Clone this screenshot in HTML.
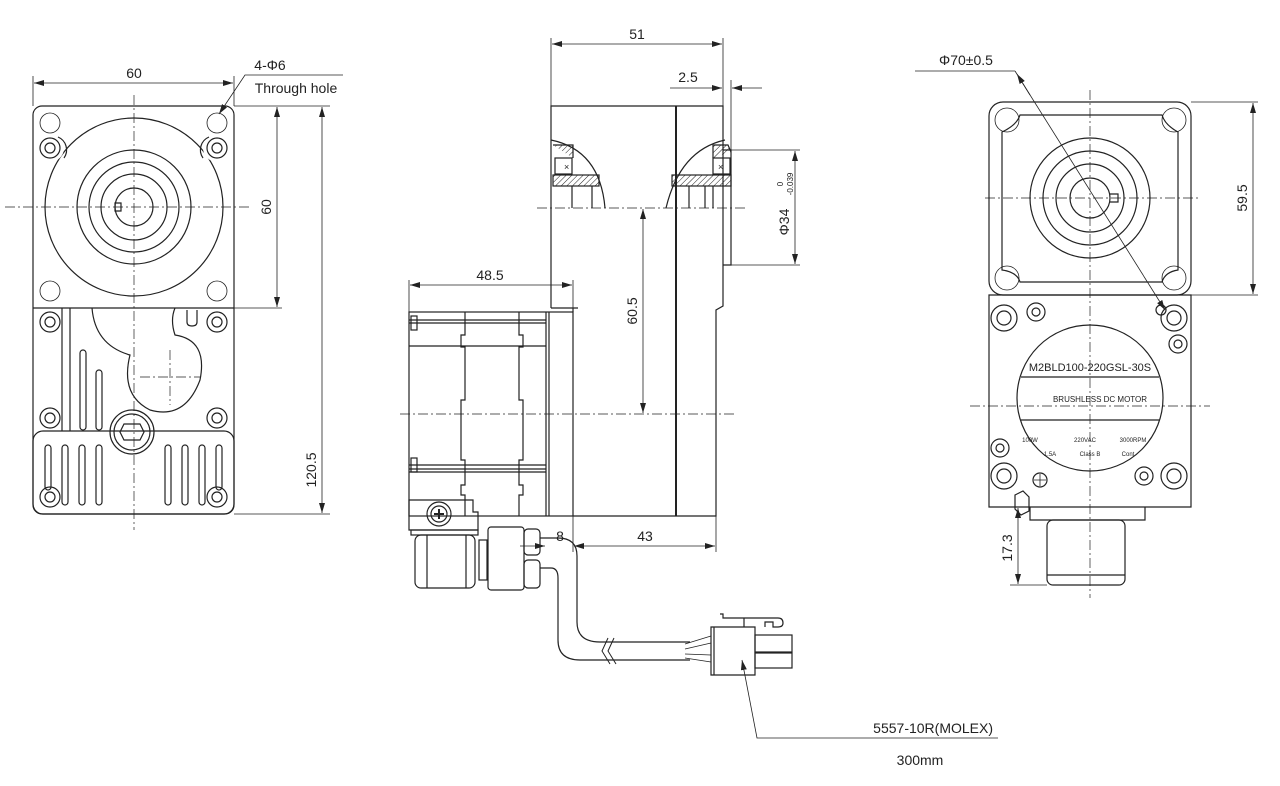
<!DOCTYPE html>
<html><head><meta charset="utf-8"><style>
html,body{margin:0;padding:0;background:#fff;}
svg{display:block;}
text{font-family:"Liberation Sans",sans-serif;fill:#222;}
</style></head><body>
<svg width="1280" height="786" viewBox="0 0 1280 786" xmlns="http://www.w3.org/2000/svg">
<defs>
<marker id="a" viewBox="0 0 10 6" refX="10" refY="3" markerWidth="10" markerHeight="6" orient="auto-start-reverse" markerUnits="userSpaceOnUse"><path d="M0,0 L10,3 L0,6 z" fill="#222"/></marker>
<pattern id="h" width="4" height="4" patternUnits="userSpaceOnUse" patternTransform="rotate(45)"><line x1="0" y1="0" x2="0" y2="4" stroke="#222" stroke-width="1"/></pattern>
</defs>
<g fill="none" stroke="#222" stroke-width="1.2">
<!-- ========== LEFT VIEW ========== -->
<rect x="33" y="106" width="201" height="408" rx="9"/>
<line x1="33" y1="308" x2="234" y2="308"/>
<circle cx="134" cy="207" r="89"/>
<circle cx="50" cy="148" r="14" fill="#fff" stroke="none"/><circle cx="217" cy="148" r="14" fill="#fff" stroke="none"/>
<path d="M58,137 A14,14 0 0 1 64,158" /><path d="M209,137 A14,14 0 0 0 203,158"/>
<circle cx="134" cy="207" r="57"/><circle cx="134" cy="207" r="45"/><circle cx="134" cy="207" r="33"/><circle cx="134" cy="207" r="19"/>
<path d="M115,203 h6 v8 h-6 z"/>
<g stroke-width="0.8"><circle cx="50" cy="123" r="10"/><circle cx="217" cy="123" r="10"/><circle cx="50" cy="291" r="10"/><circle cx="217" cy="291" r="10"/></g>
<g>
<circle cx="50" cy="148" r="10"/><circle cx="50" cy="148" r="5"/>
<circle cx="217" cy="148" r="10"/><circle cx="217" cy="148" r="5"/>
<circle cx="50" cy="322" r="10"/><circle cx="50" cy="322" r="5"/>
<circle cx="217" cy="322" r="10"/><circle cx="217" cy="322" r="5"/>
<circle cx="50" cy="418" r="10"/><circle cx="50" cy="418" r="5"/>
<circle cx="217" cy="418" r="10"/><circle cx="217" cy="418" r="5"/>
<circle cx="50" cy="497" r="10"/><circle cx="50" cy="497" r="5"/>
<circle cx="217" cy="497" r="10"/><circle cx="217" cy="497" r="5"/>
</g>
<line x1="62" y1="308" x2="62" y2="431"/><line x1="70" y1="308" x2="70" y2="431"/>
<rect x="80" y="350" width="6" height="80" rx="3"/><rect x="96" y="370" width="6" height="60" rx="3"/>
<path d="M92,308 Q95,345 130,355 Q120,395 150,410 Q185,420 200,380 Q208,340 175,335 Q170,320 175,308"/>
<path d="M187,310 v12 q0,4 5,4 q5,0 5,-4 v-12"/>
<rect x="33" y="431" width="201" height="83" rx="10"/>
<circle cx="132" cy="432" r="22"/><circle cx="132" cy="432" r="18"/><path d="M124,424 h16 l4,8 l-4,8 h-16 l-4,-8 z"/>
<g>
<rect x="45" y="445" width="6" height="45" rx="3"/><rect x="62" y="445" width="6" height="60" rx="3"/><rect x="79" y="445" width="6" height="60" rx="3"/><rect x="96" y="445" width="6" height="60" rx="3"/>
<rect x="165" y="445" width="6" height="60" rx="3"/><rect x="182" y="445" width="6" height="60" rx="3"/><rect x="199" y="445" width="6" height="60" rx="3"/><rect x="216" y="445" width="6" height="45" rx="3"/>
</g>
<g stroke-width="0.7" stroke-dasharray="10 3 2 3">
<line x1="134" y1="95" x2="134" y2="530"/><line x1="5" y1="207" x2="250" y2="207"/>
<line x1="140" y1="377" x2="200" y2="377"/><line x1="170" y1="350" x2="170" y2="405"/>
</g>
<g stroke-width="0.8">
<line x1="33" y1="76" x2="33" y2="106"/><line x1="234" y1="76" x2="234" y2="106"/>
<line x1="34" y1="83" x2="233" y2="83" marker-start="url(#a)" marker-end="url(#a)"/>
<line x1="234" y1="106" x2="330" y2="106"/><line x1="234" y1="308" x2="282" y2="308"/><line x1="234" y1="514" x2="330" y2="514"/>
<line x1="277" y1="107" x2="277" y2="307" marker-start="url(#a)" marker-end="url(#a)"/>
<line x1="322" y1="107" x2="322" y2="513" marker-start="url(#a)" marker-end="url(#a)"/>
<path d="M343,75 L245,75 L219,114" marker-end="url(#a)"/>
</g>
<!-- ========== MIDDLE VIEW ========== -->
<path d="M551,308 V106 H723 V306 L716,310 V516 H573"/>
<line x1="676" y1="106" x2="676" y2="516" stroke-width="2"/>
<path d="M723,150 H731 V265 H723"/>
<rect x="553" y="175" width="46" height="11" fill="url(#h)"/>
<rect x="672" y="175" width="59" height="11" fill="url(#h)"/>
<rect x="555" y="158" width="17" height="16"/><rect x="713" y="158" width="17" height="16"/>
<path d="M553,145 L573,145 L573,158" fill="url(#h)"/>
<path d="M713,158 L713,145 L728,145 L731,152" fill="url(#h)"/>
<path d="M551,140 Q600,150 605,208"/><path d="M725,140 Q680,150 666,208"/>
<line x1="572" y1="186" x2="572" y2="208"/><line x1="592" y1="186" x2="592" y2="208"/>
<line x1="689" y1="186" x2="689" y2="208"/><line x1="705" y1="186" x2="705" y2="208"/><line x1="713" y1="186" x2="713" y2="208"/>
<text x="564" y="170" font-size="9" stroke="none">×</text><text x="718" y="170" font-size="9" stroke="none">×</text>
<rect x="409" y="312" width="164" height="204"/>
<line x1="546" y1="312" x2="546" y2="516"/><line x1="549" y1="312" x2="549" y2="516"/>
<path d="M465,312 V335 h-4 v12 h4 V400 h-4 v60 h4 V485 h-4 v10 h4 V516"/>
<path d="M519,312 V335 h4 v12 h-4 V400 h4 v60 h-4 V485 h4 v10 h-4 V516"/>
<line x1="409" y1="320" x2="546" y2="320"/><line x1="409" y1="323" x2="546" y2="323"/>
<line x1="409" y1="346" x2="546" y2="346"/><line x1="409" y1="465" x2="546" y2="465"/>
<line x1="409" y1="469" x2="546" y2="469"/><line x1="409" y1="472" x2="546" y2="472"/>
<rect x="411" y="316" width="6" height="14"/><rect x="411" y="458" width="6" height="14"/>
<line x1="573" y1="308" x2="573" y2="312"/><line x1="551" y1="308" x2="578" y2="308"/>
<path d="M409,500 H473 V512 H478 V530 H409 Z"/>
<circle cx="439" cy="514" r="12"/><circle cx="439" cy="514" r="8"/><path d="M434,514 h10 M439,509 v10" stroke-width="2"/>
<rect x="411" y="530" width="67" height="5"/>
<rect x="415" y="535" width="60" height="53" rx="6"/><line x1="427" y1="535" x2="427" y2="588"/><line x1="466" y1="535" x2="466" y2="588"/>
<rect x="479" y="540" width="8" height="40"/>
<rect x="488" y="527" width="36" height="63" rx="3"/>
<rect x="524" y="529" width="16" height="26" rx="4"/><rect x="524" y="560" width="16" height="28" rx="4"/>
<path d="M540,538 H558 Q577,538 577,556 V622 Q577,642 600,642 H690"/>
<path d="M540,568 H551 Q558,568 558,578 V640 Q558,660 580,660 H690"/>
<path d="M608,638 L602,651 L610,664 M614,638 L608,651 L616,664" stroke-width="1"/>
<path d="M685,644 L711,636 M685,649 L711,643 M685,654 L711,655 M685,658 L711,662" stroke-width="0.8"/>
<path d="M711,627 H755 V675 H711 Z"/><line x1="714" y1="627" x2="714" y2="675"/>
<rect x="755" y="635" width="37" height="17"/><rect x="755" y="653" width="37" height="15"/>
<path d="M720,614 h3 v4 h55 q5,0 5,5 q0,4 -5,4 h-5 v-5 h-8 v5 M744,618 v9"/>
<g stroke-width="0.7" stroke-dasharray="10 3 2 3">
<line x1="537" y1="208" x2="745" y2="208"/><line x1="400" y1="414" x2="735" y2="414"/>
</g>
<g stroke-width="0.8">
<line x1="551" y1="38" x2="551" y2="106"/><line x1="723" y1="38" x2="723" y2="106"/>
<line x1="552" y1="44" x2="722" y2="44" marker-start="url(#a)" marker-end="url(#a)"/>
<line x1="731" y1="80" x2="731" y2="150"/>
<line x1="670" y1="88" x2="722" y2="88" marker-end="url(#a)"/><line x1="762" y1="88" x2="732" y2="88" marker-end="url(#a)"/>
<line x1="731" y1="150" x2="800" y2="150"/><line x1="731" y1="265" x2="800" y2="265"/>
<line x1="795" y1="151" x2="795" y2="264" marker-start="url(#a)" marker-end="url(#a)"/>
<line x1="409" y1="280" x2="409" y2="312"/><line x1="573" y1="280" x2="573" y2="308"/>
<line x1="410" y1="285" x2="572" y2="285" marker-start="url(#a)" marker-end="url(#a)"/>
<line x1="643" y1="209" x2="643" y2="413" marker-start="url(#a)" marker-end="url(#a)"/>
<line x1="573" y1="516" x2="573" y2="552"/><line x1="716" y1="516" x2="716" y2="552"/>
<line x1="574" y1="546" x2="715" y2="546" marker-start="url(#a)" marker-end="url(#a)"/>
<line x1="520" y1="546" x2="545" y2="546" marker-end="url(#a)"/>
<path d="M998,738 H757 L742,660" marker-end="url(#a)"/>
</g>
<!-- ========== RIGHT VIEW ========== -->
<rect x="989" y="102" width="202" height="193" rx="14"/>
<path d="M1020,115 H1162 Q1165,125 1178,132 V270 Q1165,272 1162,282 H1020 Q1017,272 1002,270 V132 Q1017,125 1020,115 Z"/>
<g stroke-width="0.8"><circle cx="1007" cy="120" r="12"/><circle cx="1174" cy="120" r="12"/><circle cx="1007" cy="278" r="12"/><circle cx="1174" cy="278" r="12"/></g>
<circle cx="1090" cy="198" r="60"/><circle cx="1090" cy="198" r="47"/><circle cx="1090" cy="198" r="34"/><circle cx="1090" cy="198" r="20"/>
<path d="M1110,194 h8 v8 h-8"/>
<path d="M989,295 H1191 V507 H989 Z"/>
<g>
<circle cx="1004" cy="318" r="13"/><circle cx="1004" cy="318" r="7"/>
<circle cx="1036" cy="312" r="9"/><circle cx="1036" cy="312" r="4"/>
<circle cx="1174" cy="318" r="13"/><circle cx="1174" cy="318" r="7"/>
<circle cx="1178" cy="344" r="9"/><circle cx="1178" cy="344" r="4"/>
<circle cx="1161" cy="310" r="5"/>
<circle cx="1000" cy="448" r="9"/><circle cx="1000" cy="448" r="4"/>
<circle cx="1004" cy="476" r="13"/><circle cx="1004" cy="476" r="7"/>
<circle cx="1174" cy="476" r="13"/><circle cx="1174" cy="476" r="7"/>
<circle cx="1144" cy="476" r="9"/><circle cx="1144" cy="476" r="4"/>
<circle cx="1040" cy="480" r="7"/><path d="M1034,480 h12 M1040,474 v12" stroke-width="0.8"/>
<path d="M1015,495 l8,-4 l6,6 v14 l-8,4 l-6,-6 z"/>
</g>
<circle cx="1090" cy="398" r="73"/>
<line x1="1021" y1="377" x2="1159" y2="377"/><line x1="1021" y1="420" x2="1159" y2="420"/>
<path d="M1030,507 V520 H1145 V507"/>
<rect x="1047" y="520" width="78" height="65" rx="6"/><line x1="1047" y1="575" x2="1125" y2="575"/>
<g stroke-width="0.7" stroke-dasharray="10 3 2 3">
<line x1="1090" y1="90" x2="1090" y2="598"/><line x1="985" y1="198" x2="1198" y2="198"/><line x1="970" y1="406" x2="1210" y2="406"/>
</g>
<g stroke-width="0.8">
<line x1="1191" y1="102" x2="1258" y2="102"/><line x1="1191" y1="295" x2="1258" y2="295"/>
<line x1="1253" y1="103" x2="1253" y2="294" marker-start="url(#a)" marker-end="url(#a)"/>
<line x1="1010" y1="507" x2="1030" y2="507"/><line x1="1010" y1="585" x2="1047" y2="585"/>
<line x1="1018" y1="508" x2="1018" y2="584" marker-start="url(#a)" marker-end="url(#a)"/>
<line x1="915" y1="71" x2="1015" y2="71"/>
<line x1="1015" y1="71" x2="1165" y2="310" marker-end="url(#a)"/>
<line x1="1030" y1="95" x2="1017" y2="74" marker-end="url(#a)"/>
</g>
</g>
<g font-size="14" text-anchor="middle">
<text x="134" y="78">60</text>
<text x="270" y="70">4-Φ6</text>
<text x="296" y="93">Through hole</text>
<text transform="translate(271,207) rotate(-90)">60</text>
<text transform="translate(316,470) rotate(-90)">120.5</text>
<text x="637" y="39">51</text>
<text x="688" y="82">2.5</text>
<text x="490" y="280">48.5</text>
<text transform="translate(637,311) rotate(-90)">60.5</text>
<text x="560" y="541">8</text>
<text x="645" y="541">43</text>
<text transform="translate(789,222) rotate(-90)">Φ34</text>
<text transform="translate(783,184) rotate(-90)" font-size="8">0</text>
<text transform="translate(793,184) rotate(-90)" font-size="8">-0.039</text>
<text x="966" y="65">Φ70±0.5</text>
<text transform="translate(1247,198) rotate(-90)">59.5</text>
<text transform="translate(1012,548) rotate(-90)">17.3</text>
<text x="993" y="733" text-anchor="end">5557-10R(MOLEX)</text>
<text x="920" y="765">300mm</text>
</g>
<g text-anchor="middle">
<text x="1090" y="371" font-size="11">M2BLD100-220GSL-30S</text>
<text x="1100" y="402" font-size="8">BRUSHLESS  DC MOTOR</text>
<text x="1030" y="442" font-size="6">100W</text><text x="1085" y="442" font-size="6">220VAC</text><text x="1133" y="442" font-size="6">3000RPM</text>
<text x="1050" y="456" font-size="6">1.5A</text><text x="1090" y="456" font-size="6">Class B</text><text x="1128" y="456" font-size="6">Cont</text>
</g>
</svg>
</body></html>
